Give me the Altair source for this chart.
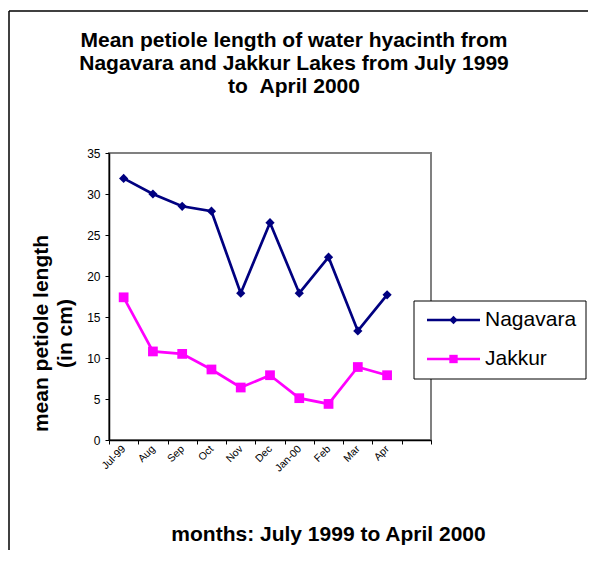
import altair as alt
import pandas as pd

months = ["Jul-99", "Aug", "Sep", "Oct", "Nov", "Dec", "Jan-00", "Feb", "Mar", "Apr"]
nagavara = [31.9, 30.0, 28.5, 27.9, 17.9, 26.5, 17.9, 22.3, 13.3, 17.7]
jakkur = [17.4, 10.8, 10.5, 8.6, 6.4, 7.9, 5.1, 4.4, 8.9, 7.9]
series_names = ["Nagavara", "Jakkur"]
series_colors = ["#000080", "#FF00FF"]
marker_shapes = ["diamond", "square"]
marker_sizes = [85, 95]
y_ticks = [0, 5, 10, 15, 20, 25, 30, 35]
x_domain = months + [" "]
chart_title = [
    "Mean petiole length of water hyacinth from",
    "Nagavara and Jakkur Lakes from July 1999",
    "to \u00a0April 2000",
]
x_title = "months: July 1999 to April 2000"
y_title = ["mean petiole length", "(in cm)"]

rows = []
for name, vals in zip(series_names, [nagavara, jakkur]):
    for m, v in zip(months, vals):
        rows.append({"month": m, "series": name, "value": v})
df = pd.DataFrame(rows)
legend_df = pd.DataFrame({"series": series_names})
frame_df = pd.DataFrame({"k": [0]})

FONT = "Liberation Sans"

x_enc = alt.X(
    "month:N",
    sort=None,
    bandPosition=0.5,
    scale=alt.Scale(type="band", domain=x_domain, paddingInner=0, paddingOuter=0),
    axis=alt.Axis(
        title=x_title,
        tickBand="extent",
        labelAngle=315,
        labelAlign="right",
        labelBaseline="middle",
        labelFontSize=10.5,
        labelPadding=3,
        tickSize=4,
        titleFontSize=21,
        titleFontWeight="bold",
        titleX=219,
        titleY=100,
        titleAlign="center",
        titleBaseline="alphabetic",
    ),
)
y_scale = alt.Scale(domain=[0, 35], nice=False)
y_enc = alt.Y(
    "value:Q",
    scale=y_scale,
    axis=alt.Axis(
        title=y_title,
        values=y_ticks,
        labelFontSize=12,
        labelPadding=5,
        tickSize=4,
        titleFontSize=21,
        titleFontWeight="bold",
        titleAngle=270,
        titleX=-62,
        titleY=180,
        titleAlign="center",
        titleBaseline="alphabetic",
        titleLineHeight=24,
    ),
)

color_scale = alt.Scale(domain=series_names, range=series_colors)
shape_scale = alt.Scale(domain=series_names, range=marker_shapes)

base = alt.Chart(df)

lines = base.mark_line(strokeWidth=2.7).encode(
    x=x_enc, y=y_enc, color=alt.Color("series:N", scale=color_scale, legend=None)
)
points = base.mark_point(filled=True, opacity=1).encode(
    x=x_enc,
    y=y_enc,
    color=alt.Color("series:N", scale=color_scale, legend=None),
    shape=alt.Shape("series:N", scale=shape_scale, legend=None),
    size=alt.Size("series:N", scale=alt.Scale(domain=series_names, range=marker_sizes), legend=None),
)
main = alt.layer(lines, points)

# legend (drawn by hand to show line + marker)
leg_y = alt.Y("series:N", scale=alt.Scale(type="point", domain=series_names, range=[167, 206], padding=0), axis=None)
leg_box = alt.Chart(frame_df).mark_rect(fill="white", stroke="black", strokeWidth=1).encode(
    x=alt.value(305), x2=alt.value(477), y=alt.value(148), y2=alt.value(226)
)
leg_lines = alt.Chart(legend_df).mark_rule(strokeWidth=2.7).encode(
    x=alt.value(318), x2=alt.value(371), y=leg_y,
    color=alt.Color("series:N", scale=color_scale, legend=None),
)
leg_points = alt.Chart(legend_df).mark_point(filled=True, opacity=1).encode(
    x=alt.value(344.5), y=leg_y,
    color=alt.Color("series:N", scale=color_scale, legend=None),
    shape=alt.Shape("series:N", scale=shape_scale, legend=None),
    size=alt.value(70),
)
leg_text = alt.Chart(legend_df).mark_text(
    align="left", baseline="middle", fontSize=21, font=FONT, color="black"
).encode(x=alt.value(376), y=leg_y, text="series:N")
legend = alt.layer(leg_box, leg_lines, leg_points, leg_text)

title_text = alt.Chart(frame_df).mark_text(
    text=chart_title,
    align="center",
    baseline="alphabetic",
    fontSize=21,
    fontWeight="bold",
    font=FONT,
    color="black",
    lineHeight=22.8,
).encode(x=alt.value(185), y=alt.value(-106))

left_border = alt.Chart(frame_df).mark_rule(color="black", strokeWidth=1.5).encode(
    x=alt.value(-100), y=alt.value(-142), y2=alt.value(430)
)
top_border = alt.Chart(frame_df).mark_rule(color="black", strokeWidth=1.5).encode(
    x=alt.value(-100), x2=alt.value(500), y=alt.value(-142)
)

chart = (
    alt.layer(left_border, top_border, title_text, main, legend)
    .resolve_scale(y="independent")
    .properties(
        width=322,
        height=287,
        autosize=alt.AutoSizeParams(type="none"),
        padding={"left": 101, "top": 145, "right": 157, "bottom": 110},
    )
    .configure(font=FONT)
    .configure_view(stroke="#808080", strokeWidth=2)
    .configure_axis(
        domainColor="black",
        domainWidth=1.5,
        tickColor="black",
        tickWidth=1,
        labelColor="black",
        titleColor="black",
        labelFont=FONT,
        titleFont=FONT,
        grid=False,
    )
)

chart.save("out.html", embed_options={"renderer": "svg", "actions": False})
